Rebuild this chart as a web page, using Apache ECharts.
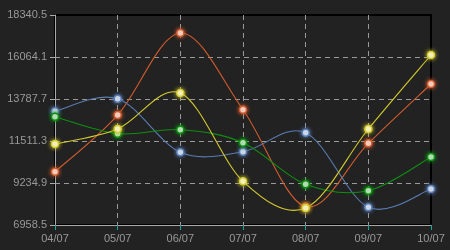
<!DOCTYPE html>
<html><head><meta charset="utf-8">
<script src="https://cdn.jsdelivr.net/npm/echarts@6/dist/echarts.min.js"></script>
<style>html,body{margin:0;padding:0;background:#222222;}#c{width:450px;height:250px;}</style>
</head><body><div id="c"></div>
<script>
const categories = ['04/07','05/07','06/07','07/07','08/07','09/07','10/07'];
const seriesRed = [9847, 12920, 17365, 13207, 7950, 11386, 14601];
const seriesBlue = [13121, 13804, 10899, 10931, 11961, 7918, 8910];
const seriesGreen = [12828, 11907, 12124, 11419, 9164, 8818, 10644];
const seriesYellow = [11348, 12161, 14113, 9327, 7880, 12161, 16172];
const yMin = 6958.5, yMax = 18340.5, yInterval = 2276.4;

const colors = ['#d15b2c', '#5a7db3', '#0f8f12', '#d4cc2c'];
const FONT = 'Liberation Sans, Arial, sans-serif';
const chart = echarts.init(document.getElementById('c'), null, {renderer: 'canvas'});

// Catmull-Rom spline drawn through the axis scales (api.coord)
function curve(arr, color) {
  return {
    type: 'custom', z: 2, silent: true,
    data: arr.map((v, i) => [i, v]),
    renderItem: function (params, api) {
      const i = params.dataIndex;
      const n = arr.length;
      if (i >= n - 1) return null;
      const P = j => api.coord([Math.max(0, Math.min(n - 1, j)), arr[Math.max(0, Math.min(n - 1, j))]]);
      const p0 = P(i - 1), p1 = P(i), p2 = P(i + 1), p3 = P(i + 2);
      return {
        type: 'bezierCurve',
        shape: {
          x1: p1[0], y1: p1[1], x2: p2[0], y2: p2[1],
          cpx1: p1[0] + (p2[0] - p0[0]) / 6, cpy1: p1[1] + (p2[1] - p0[1]) / 6,
          cpx2: p2[0] - (p3[0] - p1[0]) / 6, cpy2: p2[1] - (p3[1] - p1[1]) / 6
        },
        style: {stroke: color, lineWidth: 1.1, fill: null}
      };
    }
  };
}
function pts(arr, color) {
  return {
    type: 'line', data: arr, z: 3,
    symbol: 'circle', symbolSize: 7,
    lineStyle: {width: 0, opacity: 0},
    itemStyle: {color: '#ffffff', borderColor: color, borderWidth: 1.5, shadowColor: color, shadowBlur: 4}
  };
}
chart.setOption({
  backgroundColor: '#222222',
  animation: false,
  grid: {left: 55, right: 19, top: 15, bottom: 25, show: true, borderColor: '#000000', borderWidth: 2, backgroundColor: 'transparent'},
  xAxis: {
    type: 'category', data: categories, boundaryGap: false,
    axisLine: {lineStyle: {color: '#aaaaaa', width: 1}},
    axisTick: {show: true, lineStyle: {color: '#1aa3a3'}, length: 5},
    axisLabel: {color: '#999999', fontSize: 11, fontFamily: FONT, margin: 8},
    splitLine: {show: true, showMinLine: false, showMaxLine: false, lineStyle: {color: '#999999', type: [5, 4], width: 1}}
  },
  yAxis: {
    type: 'value', min: yMin, max: yMax, interval: yInterval,
    axisLine: {show: true, lineStyle: {color: '#aaaaaa', width: 1}},
    axisTick: {show: true, lineStyle: {color: '#aaaaaa'}, length: 5},
    axisLabel: {color: '#999999', fontSize: 11, fontFamily: FONT, margin: 8,
      formatter: v => v.toFixed(1)},
    splitLine: {show: true, showMinLine: false, showMaxLine: false, lineStyle: {color: '#999999', type: [5, 4], width: 1}}
  },
  series: [
    curve(seriesRed, colors[0]), curve(seriesBlue, colors[1]),
    curve(seriesGreen, colors[2]), curve(seriesYellow, colors[3]),
    pts(seriesRed, colors[0]), pts(seriesBlue, colors[1]),
    pts(seriesGreen, colors[2]), pts(seriesYellow, colors[3])
  ]
});
</script></body></html>
